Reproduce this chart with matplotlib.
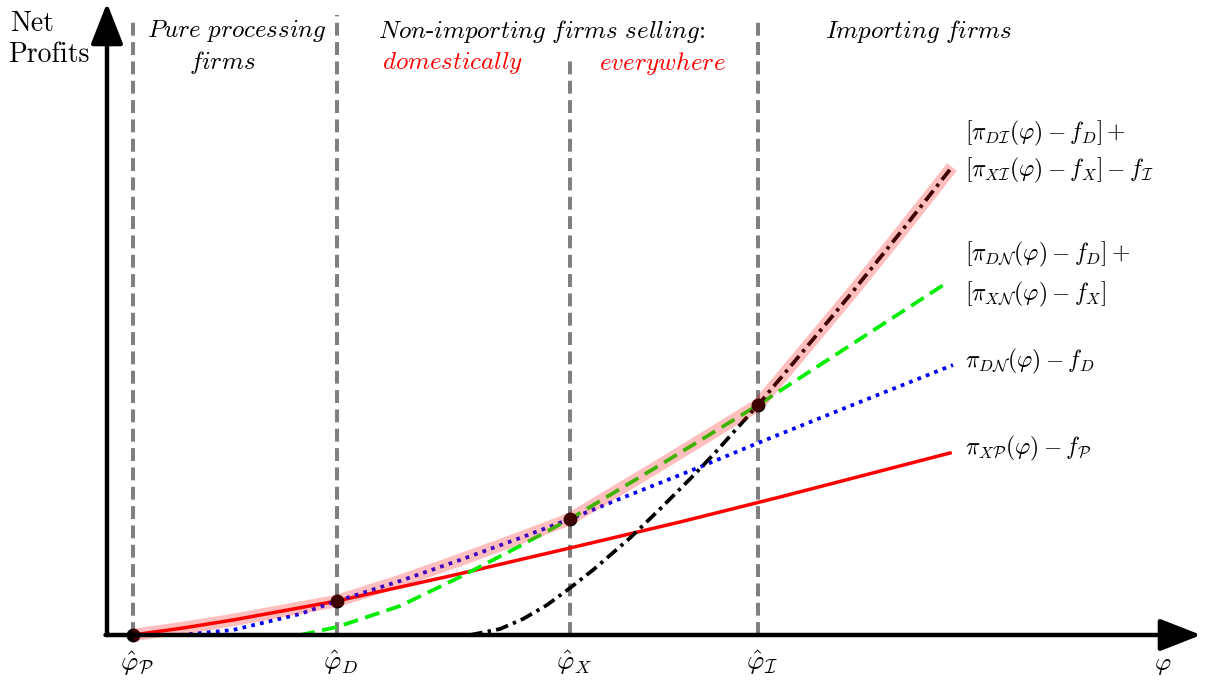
import numpy as np
import matplotlib.pyplot as plt

plt.rcParams['mathtext.fontset'] = 'cm'

# curves (phi, net profit) in axis units
red_x = [26, 76, 126, 230, 343, 463, 573, 673, 843]
red_y = [0, 7, 15, 34, 59, 87, 113, 138, 182]

blue_x = [73, 126, 193, 230, 293, 353, 413, 463, 520, 593, 651, 753, 846]
blue_y = [0, 5, 21, 34, 54, 75, 97, 116, 139, 168, 192, 233, 270]

green_x = [193, 230, 293, 353, 413, 463, 553, 651, 753, 841]
green_y = [0, 8, 29, 58, 89, 116, 170, 230, 296, 353]

black_x = [363, 393, 416, 440, 463, 486, 523, 553, 583, 606, 651, 693, 743, 793, 845]
black_y = [0, 6, 16, 30, 47, 65, 97, 126, 156, 180, 230, 280, 340, 402, 468]

# cutoffs
cut_x = [26, 230, 463, 651]
cut_y = [0, 34, 116, 230]
cut_top = [617, 620, 578, 618]
cut_labels = [r'$\hat{\varphi}_{\mathcal{P}}$', r'$\hat{\varphi}_{D}$',
              r'$\hat{\varphi}_{X}$', r'$\hat{\varphi}_{\mathcal{I}}$']

fig = plt.figure(figsize=(12.07, 6.85), dpi=100)
ax = fig.add_axes([0, 0, 1, 1])
ax.set_xlim(-107, 1100)
ax.set_ylim(-50, 635)
ax.axis('off')

# vertical cutoff lines
for x, top in zip(cut_x, cut_top):
    ax.plot([x, x], [0, top], color='#808080', lw=2.9, dashes=(3.2, 1.6), zorder=1)

ax.plot(red_x, red_y, color='red', lw=2.5, zorder=3)
ax.plot(blue_x, blue_y, color='blue', lw=2.7, dashes=(1, 1.4), zorder=3)
ax.plot(green_x, green_y, color='#00ee00', lw=2.7, dashes=(4, 2), zorder=3)
ax.plot(black_x, black_y, color='black', lw=2.7, dashes=(3.4, 1.4, 0.9, 1.4), zorder=3)

ax.plot(cut_x, cut_y, 'o', color='black', ms=9, zorder=4)

# upper envelope of the profit curves
def piece(xs, ys, lo, hi):
    return [(a, b) for a, b in zip(xs, ys) if lo <= a <= hi]

env = (piece(red_x, red_y, cut_x[0], cut_x[1])
       + piece(blue_x, blue_y, cut_x[1], cut_x[2])
       + piece(green_x, green_y, cut_x[2], cut_x[3])
       + piece(black_x, black_y, cut_x[3], 2000))
env = np.array(env)
ax.plot(env[:, 0], env[:, 1], color='red', alpha=0.25, lw=9,
        solid_capstyle='butt', solid_joinstyle='round', zorder=5)

# axes arrows
arr = dict(arrowstyle='-|>,head_length=1.4,head_width=0.55', lw=3.2, color='black',
           shrinkA=0, shrinkB=0, mutation_scale=18)
ax.annotate('', xy=(0, 632), xytext=(0, 0), arrowprops=arr, zorder=6)
ax.annotate('', xy=(1094, 0), xytext=(-1.5, 0), arrowprops=arr, zorder=6)

fs = 18
ax.text(-97, 611, 'Net', family='cmr10', fontsize=20, va='center', ha='left')
ax.text(-99, 580, 'Profits', family='cmr10', fontsize=20, va='center', ha='left')

ax.text(130, 604, r'$\mathit{Pure\ processing}$', fontsize=fs, ha='center', va='center')
ax.text(115, 573, r'$\mathit{firms}$', fontsize=fs, ha='center', va='center')
ax.text(435, 604, r'$\mathit{Non}$-$\mathit{importing\ firms\ selling}$:', family='cmr10',
        fontsize=fs, ha='center', va='center')
ax.text(346, 572, r'$\mathit{domestically}$', color='red', fontsize=fs, ha='center', va='center')
ax.text(555, 572, r'$\mathit{everywhere}$', color='red', fontsize=fs, ha='center', va='center')
ax.text(812, 604, r'$\mathit{Importing\ firms}$', fontsize=fs, ha='center', va='center')

lx = 858
lfs = 17
ax.text(lx, 502, r'$[\pi_{D\mathcal{I}}(\varphi)-f_D]+$', fontsize=lfs, va='center')
ax.text(lx, 465, r'$[\pi_{X\mathcal{I}}(\varphi)-f_X]-f_{\mathcal{I}}$', fontsize=lfs, va='center')
ax.text(lx, 381, r'$[\pi_{D\mathcal{N}}(\varphi)-f_D]+$', fontsize=lfs, va='center')
ax.text(lx, 341, r'$[\pi_{X\mathcal{N}}(\varphi)-f_X]$', fontsize=lfs, va='center')
ax.text(lx, 274, r'$\pi_{D\mathcal{N}}(\varphi)-f_D$', fontsize=lfs, va='center')
ax.text(lx, 187, r'$\pi_{X\mathcal{P}}(\varphi)-f_{\mathcal{P}}$', fontsize=lfs, va='center')

for x, lab in zip(cut_x, cut_labels):
    ax.text(x + 4, -28, lab, fontsize=19, ha='center', va='center')
ax.text(1056, -30, r'$\varphi$', fontsize=18, ha='center', va='center')

fig.savefig('out.png', dpi=100)
